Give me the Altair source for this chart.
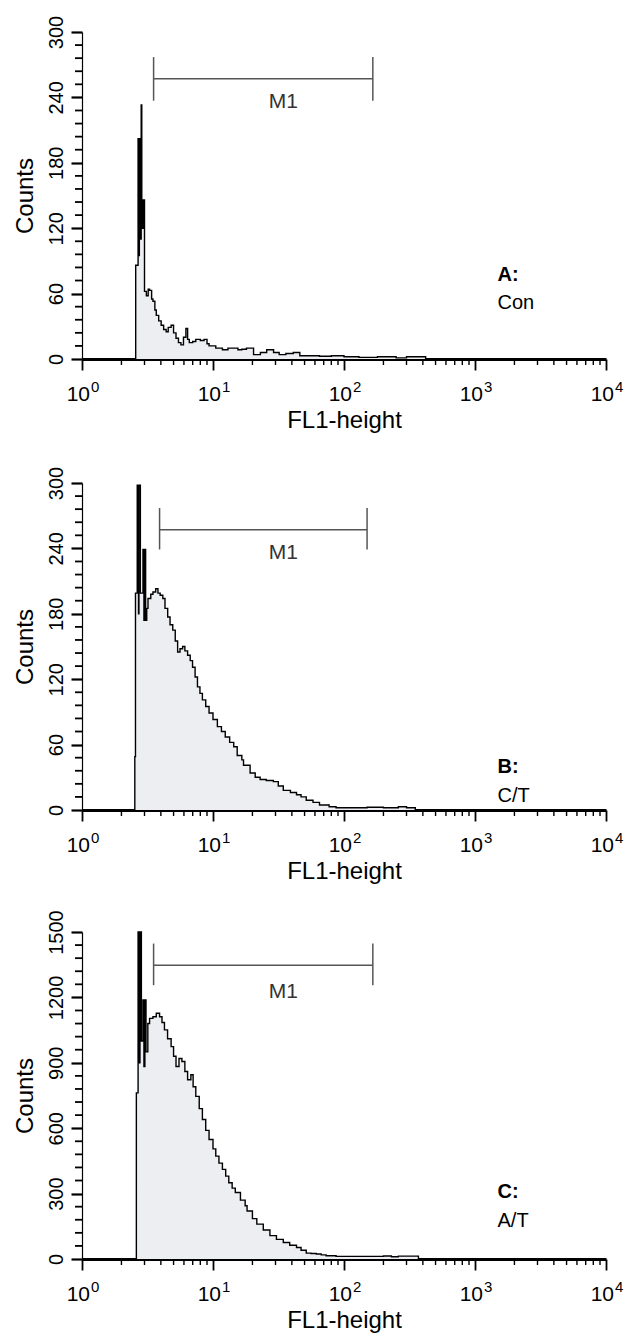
import altair as alt
import pandas as pd

FONT = "Liberation Sans"
FILL = "#eceef2"

# ---- histogram data (FL1-height channel start, counts) ----
a_hist = [(1.0, 0), (2.57, 86), (2.68, 202), (2.72, 95), (2.74, 202), (2.78, 110), (2.83, 233),
          (2.86, 120), (2.93, 146), (3.00, 62), (3.10, 58), (3.20, 64), (3.28, 63), (3.40, 55),
          (3.48, 53), (3.60, 45), (3.69, 40), (3.85, 35), (4.02, 31), (4.20, 27), (4.39, 25),
          (4.55, 29), (4.79, 31), (5.00, 24), (5.22, 19), (5.45, 15), (5.69, 13), (5.95, 20),
          (6.21, 28), (6.40, 18), (6.59, 15), (7.00, 16), (7.39, 18), (8.00, 17), (8.55, 18),
          (9.00, 14), (9.33, 12), (10.5, 10), (11.8, 8.5), (13.0, 10), (14.0, 10), (15.5, 8.5),
          (16.6, 9), (18.0, 10), (20.4, 4), (23.0, 6), (25.7, 8.5), (29.0, 6), (32.0, 4),
          (36.0, 5), (41.0, 6), (46.0, 3), (55.0, 3), (65.0, 2.5), (80.0, 3), (100.0, 2),
          (130.0, 1.5), (180.0, 2), (250.0, 1), (300.0, 2), (420.0, 0), (10000.0, 0)]

b_hist = [(1.0, 0), (2.53, 49), (2.56, 199), (2.64, 298), (2.70, 180), (2.72, 298), (2.79, 199),
          (2.92, 239), (2.97, 174), (3.00, 239), (3.06, 174), (3.12, 185), (3.19, 194),
          (3.35, 198), (3.48, 200), (3.65, 203), (3.80, 199), (3.95, 197), (4.14, 194),
          (4.30, 185), (4.51, 177), (4.70, 170), (4.93, 165), (5.15, 155), (5.37, 145),
          (5.60, 148), (5.86, 150), (6.10, 146), (6.40, 142), (6.70, 137), (6.98, 131),
          (7.30, 122), (7.61, 113), (7.95, 107), (8.30, 101), (8.80, 95), (9.33, 89),
          (10.0, 83), (10.8, 76.5), (11.6, 72), (12.4, 67), (13.4, 62), (14.4, 58), (15.3, 50),
          (16.6, 46), (17.1, 41), (19.2, 34), (21.0, 30), (22.9, 28), (25.5, 27), (28.9, 26),
          (31.5, 22), (34.4, 18), (39.0, 16), (43.4, 14), (47.0, 12), (51.5, 9), (58.0, 7),
          (65.0, 4.6), (77.0, 3), (87.0, 2), (150.0, 2.5), (200.0, 2), (260.0, 3), (300.0, 2),
          (350.0, 0), (10000.0, 0)]

c_hist = [(1.0, 0), (2.60, 762), (2.68, 1500), (2.74, 900), (2.77, 1500), (2.84, 1000),
          (2.92, 1188), (2.97, 883), (3.02, 1188), (3.08, 950), (3.18, 1080), (3.28, 1104),
          (3.48, 1111), (3.69, 1127), (3.91, 1111), (4.08, 1085), (4.26, 1051), (4.50, 1010),
          (4.79, 974), (5.00, 930), (5.22, 883), (5.50, 920), (5.79, 906), (6.10, 860),
          (6.40, 822), (6.78, 845), (7.05, 790), (7.39, 746), (7.85, 690), (8.30, 640),
          (8.80, 590), (9.33, 548), (10.0, 505), (10.5, 472), (11.1, 440), (11.8, 411),
          (12.5, 380), (13.2, 350), (14.0, 325), (14.8, 305), (16.2, 270), (17.6, 244),
          (18.2, 220), (20.0, 185), (21.6, 160), (24.2, 133), (27.2, 107), (30.5, 90),
          (34.4, 76), (38.5, 63), (43.4, 53), (47.0, 40), (51.5, 27), (56.0, 25), (61.4, 23),
          (67.0, 19), (73.0, 15), (87.0, 12), (200.0, 14), (230.0, 10), (260.0, 13),
          (370.0, 0), (10000.0, 0)]

# ---- M1 marker: start, end, bar level, tick low, tick high, label x, label y ----
a_m1 = (3.52, 166, 257, 237, 277, 34.5, 236)
b_m1 = (3.91, 150, 257, 239, 277, 34.5, 236)
c_m1 = (3.52, 166, 1348, 1256, 1447, 34.5, 1226)

# ---- panel captions: (letter, letter y, name, name y) ----
a_caption = ("A:", 77, "Con", 51)
b_caption = ("B:", 39.5, "C/T", 13)
c_caption = ("C:", 306, "A/T", 175)
caption_x = 1486

# ---- axes ----
x_major = [1, 10, 100, 1000, 10000]
x_exp = ["0", "1", "2", "3", "4"]
x_minor = [m * 10 ** d for d in range(4) for m in range(2, 10)]
a_ymax, a_ystep, a_yminor = 300, 60, 12
b_ymax, b_ystep, b_yminor = 300, 60, 12
c_ymax, c_ystep, c_yminor = 1500, 300, 60

W, H = 524, 327
X_TICK_PX, Y_TICK_PX = 6, 7   # minor tick lengths in pixels


def panel(hist, ymax, ystep, yminor, m1, caption):
    df = pd.DataFrame(hist, columns=["fl1", "counts"])
    xs = alt.Scale(type="log", domain=[1, 10000], nice=False)
    ys = alt.Scale(domain=[0, ymax], nice=False, zero=True)
    y_major = list(range(0, ymax + 1, ystep))
    y_minor = [v for v in range(0, ymax + 1, yminor) if v % ystep != 0]

    base = alt.Chart(df)
    area = base.mark_area(interpolate="step-after", color=FILL).encode(
        x=alt.X("fl1:Q", scale=xs, axis=alt.Axis(
            values=x_major, labels=False, tickSize=11, tickWidth=1.8, domainWidth=3,
            title="FL1-height", titleFontSize=24, titleFontWeight="normal",
            titlePadding=38, grid=False, orient="bottom")),
        y=alt.Y("counts:Q", scale=ys, axis=alt.Axis(
            values=y_major, format="d", tickSize=11, tickWidth=2.2,
            labelAngle=270, labelAlign="center", labelBaseline="bottom", labelFontSize=20,
            labelPadding=5, title="Counts", titleFontSize=24, titleFontWeight="normal",
            titlePadding=9, grid=False, domainWidth=1.2, orient="left")),
    )
    line = base.mark_line(interpolate="step-after", color="black", strokeWidth=1.4).encode(
        x=alt.X("fl1:Q", scale=xs, axis=None),
        y=alt.Y("counts:Q", scale=ys, axis=None),
    )

    # minor ticks drawn as short rules just outside the axes
    xt_df = pd.DataFrame({"xm": x_minor})
    xt_df["t0"] = 0.0
    xt_df["t1"] = -ymax * X_TICK_PX / H
    xminor = alt.Chart(xt_df).mark_rule(color="black", strokeWidth=1.4).encode(
        x=alt.X("xm:Q", scale=xs, axis=None),
        y=alt.Y("t0:Q", scale=ys, axis=None), y2="t1:Q")
    yt_df = pd.DataFrame({"ym": y_minor})
    yt_df["l0"] = 10 ** (-4 * Y_TICK_PX / W)
    yt_df["l1"] = 1.0
    yminor_r = alt.Chart(yt_df).mark_rule(color="black", strokeWidth=1.8).encode(
        y=alt.Y("ym:Q", scale=ys, axis=None),
        x=alt.X("l0:Q", scale=xs, axis=None), x2="l1:Q")

    m1_df = pd.DataFrame([m1], columns=["s", "e", "lvl", "lo", "hi", "tx", "ty"])
    m1b = alt.Chart(m1_df)
    m1_bar = m1b.mark_rule(color="#555555", strokeWidth=1.5).encode(
        x=alt.X("s:Q", scale=xs, axis=None), x2="e:Q",
        y=alt.Y("lvl:Q", scale=ys, axis=None))
    m1_left = m1b.mark_rule(color="#555555", strokeWidth=1.5).encode(
        x=alt.X("s:Q", scale=xs, axis=None),
        y=alt.Y("lo:Q", scale=ys, axis=None), y2="hi:Q")
    m1_right = m1b.mark_rule(color="#555555", strokeWidth=1.5).encode(
        x=alt.X("e:Q", scale=xs, axis=None),
        y=alt.Y("lo:Q", scale=ys, axis=None), y2="hi:Q")
    m1_text = m1b.mark_text(fontSize=21, color="#333333", baseline="middle").encode(
        x=alt.X("tx:Q", scale=xs, axis=None),
        y=alt.Y("ty:Q", scale=ys, axis=None),
        text=alt.value("M1"))

    cap_df = pd.DataFrame({"x": [caption_x], "ly": [caption[1]], "ny": [caption[3]],
                           "letter": [caption[0]], "name": [caption[2]]})
    capb = alt.Chart(cap_df)
    cap1 = capb.mark_text(fontSize=20, fontWeight="bold", align="left", baseline="middle",
                          color="black").encode(
        x=alt.X("x:Q", scale=xs, axis=None), y=alt.Y("ly:Q", scale=ys, axis=None),
        text="letter:N")
    cap2 = capb.mark_text(fontSize=20, align="left", baseline="middle", color="black").encode(
        x=alt.X("x:Q", scale=xs, axis=None), y=alt.Y("ny:Q", scale=ys, axis=None),
        text="name:N")

    lab_df = pd.DataFrame({"v": x_major, "e": x_exp, "b": ["10"] * len(x_major)})
    labb = alt.Chart(lab_df)
    lab10 = labb.mark_text(fontSize=21, align="right", baseline="top", dx=8,
                           color="black").encode(
        x=alt.X("v:Q", scale=xs, axis=None), y=alt.value(H + 25), text="b:N")
    labexp = labb.mark_text(fontSize=15, align="left", baseline="top", dx=9,
                            color="black").encode(
        x=alt.X("v:Q", scale=xs, axis=None), y=alt.value(H + 21), text="e:N")

    return alt.layer(area, line, m1_bar, m1_left, m1_right, m1_text,
                     cap1, cap2, lab10, labexp, xminor, yminor_r).resolve_axis(
        x="independent", y="independent").properties(width=W, height=H)


pa = panel(a_hist, a_ymax, a_ystep, a_yminor, a_m1, a_caption)
pb = panel(b_hist, b_ymax, b_ystep, b_yminor, b_m1, b_caption)
pc = panel(c_hist, c_ymax, c_ystep, c_yminor, c_m1, c_caption)

chart = alt.vconcat(alt.vconcat(pa, pb, spacing=33), pc, spacing=25).properties(
    padding={"left": 5, "top": 7, "right": 0, "bottom": 0}
).configure_view(strokeWidth=0).configure_axis(
    labelFont=FONT, titleFont=FONT, labelColor="black", titleColor="black",
    domainColor="black", tickColor="black"
).configure_text(font=FONT)

chart.save("out.html", embed_options={"renderer": "svg", "actions": False})
